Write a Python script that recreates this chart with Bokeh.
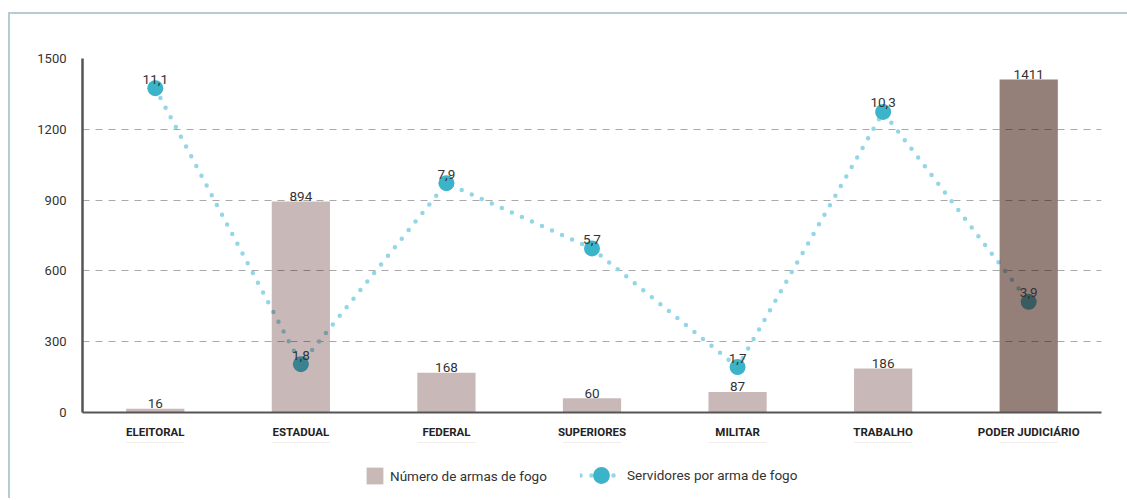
from bokeh.plotting import figure
from bokeh.layouts import column
from bokeh.models import Range1d, FixedTicker, Legend, LegendItem, ColumnDataSource
from bokeh.core.properties import value
from bokeh.embed import file_html
from bokeh.resources import INLINE

# ---- data ----
categories = ["ELEITORAL", "ESTADUAL", "FEDERAL", "SUPERIORES", "MILITAR", "TRABALHO", "PODER JUDICIÁRIO"]
armas = [16, 894, 168, 60, 87, 186, 1411]
servidores = [11.1, 1.8, 7.9, 5.7, 1.7, 10.3, 3.9]
y_ticks = [0, 300, 600, 900, 1200, 1500]
legend_labels = ["Número de armas de fogo", "Servidores por arma de fogo"]

# ---- styles ----
FONT = "Roboto"
TXT = "#333333"
BAR_LIGHT = "#c8b9b6"
DOT = "#3bb3c9"
DOTLINE = "#93d6e6"
# bars imitate a "multiply" blend: dark tint with partial alpha (white -> taupe)
bar_fill = ["#3b0500"] * 6 + ["#350d00"]
bar_alpha = [0.28] * 6 + [0.525]

armas_lbl = [str(v) for v in armas]
serv_lbl = [f"{v:.1f}".replace(".", ",") for v in servidores]

bars_src = ColumnDataSource(dict(cat=categories, val=armas, lbl=armas_lbl,
                                 fill=bar_fill, alpha=bar_alpha))
line_src = ColumnDataSource(dict(cat=categories, val=servidores, lbl=serv_lbl))

p = figure(x_range=categories, y_range=Range1d(0, 1500),
           width=1117, height=428, output_backend="svg", toolbar_location=None,
           min_border_left=72, min_border_right=26, min_border_top=44, min_border_bottom=30)
p.extra_y_ranges = {"ratio": Range1d(0.17, 12.1)}

p.outline_line_color = None
p.background_fill_color = "white"
p.border_fill_color = "white"

# grid
p.xgrid.grid_line_color = None
p.ygrid.ticker = FixedTicker(ticks=y_ticks)
p.ygrid.grid_line_color = "#a9a9a9"
p.ygrid.grid_line_dash = "7 6"
p.ygrid.grid_line_width = 1

# axes
p.yaxis.ticker = FixedTicker(ticks=y_ticks)
for ax in (p.xaxis[0], p.yaxis[0]):
    ax.axis_line_color = "#555555"
    ax.major_tick_line_color = None
    ax.minor_tick_line_color = None
    ax.major_tick_out = 0
    ax.major_tick_in = 0
p.yaxis.axis_line_width = 2.5
p.xaxis.axis_line_width = 2
p.yaxis.major_label_text_font = FONT
p.yaxis.major_label_text_font_size = "13px"
p.yaxis.major_label_text_color = TXT
p.yaxis.major_label_standoff = 16
p.xaxis.major_label_text_font = FONT
p.xaxis.major_label_text_font_size = "11.5px"
p.xaxis.major_label_text_font_style = "bold"
p.xaxis.major_label_text_color = "#222222"
p.xaxis.major_label_standoff = 12

# line series (hidden secondary scale)
p.line(x="cat", y="val", source=line_src, y_range_name="ratio",
       line_color=DOTLINE, line_width=4.5, line_dash="0 11", line_cap="round")
p.scatter(x="cat", y="val", source=line_src, y_range_name="ratio",
          size=16, fill_color=DOT, line_color=None)

# bars on top (tinted, partially transparent)
p.vbar(x="cat", top="val", bottom=0, width=0.4, source=bars_src,
       fill_color="fill", fill_alpha="alpha", line_color=None)

# data labels
p.text(x="cat", y="val", text="lbl", source=bars_src, text_align="center",
       text_baseline="alphabetic", y_offset=-5, text_font=value(FONT),
       text_font_size="13.5px", text_color=TXT)
p.text(x="cat", y="val", text="lbl", source=line_src, y_range_name="ratio",
       text_align="center", text_baseline="alphabetic", y_offset=-9,
       text_font=value(FONT), text_font_size="13.5px", text_color=TXT)

# ---- legend strip (separate small figure below; its data lie outside its view) ----
q = figure(width=1117, height=56, output_backend="svg", toolbar_location=None,
           x_axis_type=None, y_axis_type=None, x_range=categories, y_range=Range1d(-2, -1),
           min_border_left=0, min_border_right=0, min_border_top=0, min_border_bottom=0)
q.outline_line_color = None
q.grid.visible = False
lb = q.vbar(x="cat", top="val", bottom=0, width=0.4, source=bars_src,
            fill_color=BAR_LIGHT, line_color=None)
ll = q.line(x="cat", y="val", source=line_src, line_color=DOTLINE, line_width=4.5,
            line_dash="0 11", line_cap="round")
ls = q.scatter(x="cat", y="val", source=line_src, size=19, fill_color=DOT, line_color=None)

common = dict(orientation="horizontal", padding=0, margin=0, border_line_color=None,
              background_fill_alpha=0, label_standoff=5,
              label_text_font=FONT, label_text_font_size="13.5px", label_text_color=TXT)
q.add_layout(Legend(items=[LegendItem(label=legend_labels[0], renderers=[lb])],
                    location=(282, 12), glyph_width=21, glyph_height=21, **common))
q.add_layout(Legend(items=[LegendItem(label=legend_labels[1], renderers=[ll, ls])],
                    location=(498, 2), glyph_width=42, glyph_height=42, **common))

page = column(p, q, margin=(12, 0, 0, 8),
              styles={"border-top": "2px solid #b4cdd3", "border-left": "2px solid #b4cdd3"})

open("out.html", "w").write(file_html(page, INLINE))
